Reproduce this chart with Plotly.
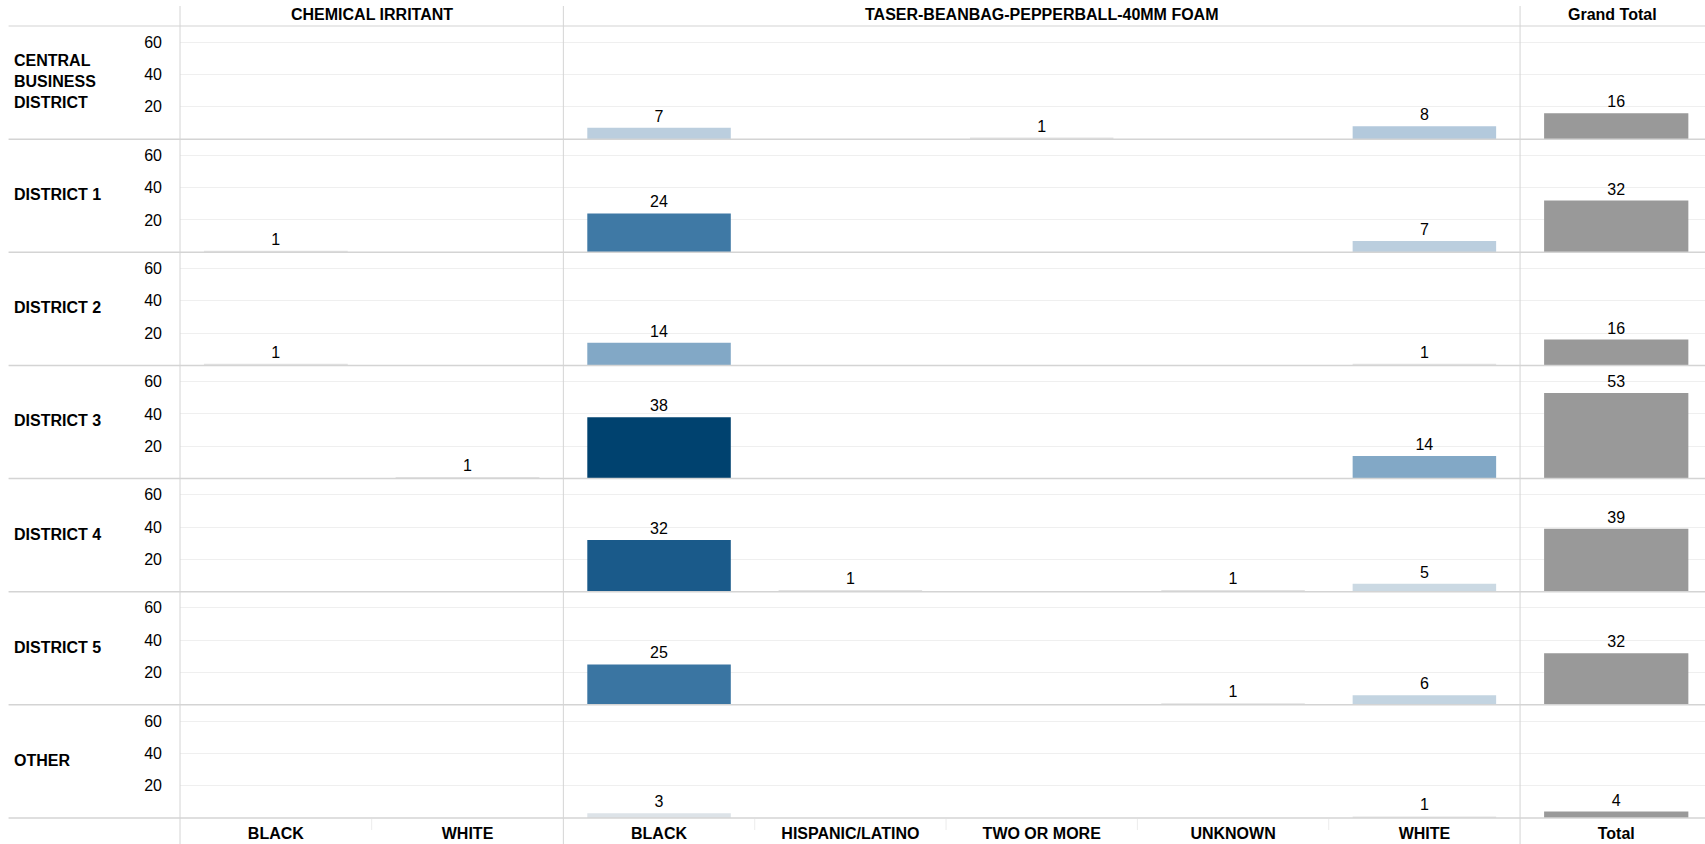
import plotly.graph_objects as go
from plotly.subplots import make_subplots

# Districts (rows) and race categories per force type (columns)
districts = ["CENTRAL<br>BUSINESS<br>DISTRICT", "DISTRICT 1", "DISTRICT 2", "DISTRICT 3",
             "DISTRICT 4", "DISTRICT 5", "OTHER"]

chem_races = ["BLACK", "WHITE"]
chem_counts = [
    [None, None],
    [1, None],
    [1, None],
    [None, 1],
    [None, None],
    [None, None],
    [None, None],
]

taser_races = ["BLACK", "HISPANIC/LATINO", "TWO OR MORE", "UNKNOWN", "WHITE"]
taser_counts = [
    [7, None, 1, None, 8],
    [24, None, None, None, 7],
    [14, None, None, None, 1],
    [38, None, None, None, 14],
    [32, 1, None, 1, 5],
    [25, None, None, 1, 6],
    [3, None, None, None, 1],
]

total_label = ["Total"]
grand_totals = [16, 32, 16, 53, 39, 32, 4]

col_headers = ["CHEMICAL IRRITANT", "TASER-BEANBAG-PEPPERBALL-40MM FOAM", "Grand Total"]
y_ticks = [20, 40, 60]

# ---- styling ----
W, H = 1705, 844
L, T, B = 179.5, 26, 26.3
plot_w = W - L
cmin, cmax = 1, 38
blues = [[0.0, "#e3e3e3"], [0.054, "#dde3e8"], [0.108, "#cbd9e3"], [0.189, "#b3c9dc"],
         [0.351, "#82a8c6"], [0.622, "#3f79a5"], [0.838, "#1a5a8a"], [1.0, "#00426f"]]
head_font = dict(family="Liberation Sans Narrow, Arial Narrow, Liberation Sans, sans-serif",
                 size=16, color="#000000")
num_font = dict(family="Liberation Sans, Arial, sans-serif", size=16, color="#000000")
line_col = "#d4d4d4"
grid_col = "#efefef"

fig = make_subplots(rows=7, cols=3, shared_xaxes=True,
                    horizontal_spacing=0, vertical_spacing=0,
                    column_widths=[383.5, 957, 185])


def bar(cats, vals, colored=True, width=0.75):
    marker = (dict(color=[v if v is not None else 0 for v in vals], colorscale=blues,
                   cmin=cmin, cmax=cmax, line=dict(width=0))
              if colored else dict(color="#999999", line=dict(width=0)))
    return go.Bar(x=cats, y=vals, width=width, marker=marker,
                  text=[str(v) if v is not None else "" for v in vals],
                  textposition="outside", textfont=num_font, cliponaxis=False,
                  hoverinfo="x+y", showlegend=False)


for r in range(7):
    fig.add_trace(bar(chem_races, chem_counts[r]), row=r + 1, col=1)
    fig.add_trace(bar(taser_races, taser_counts[r]), row=r + 1, col=2)
    fig.add_trace(bar(total_label, [grand_totals[r]], colored=False, width=0.78),
                  row=r + 1, col=3)

fig.update_yaxes(range=[0, 70], tickvals=y_ticks, showgrid=True, gridcolor=grid_col,
                 gridwidth=1, zeroline=False, showline=False, ticks="",
                 showticklabels=False, fixedrange=True)
fig.update_yaxes(showticklabels=True, tickfont=num_font, ticklabelstandoff=17, col=1)
fig.update_xaxes(showgrid=False, zeroline=False, showline=False, ticks="",
                 tickfont=dict(head_font, size=16), fixedrange=True)
fig.update_xaxes(range=[-0.52, 0.48], col=3)

fig.update_layout(
    width=W, height=H,
    margin=dict(l=L, r=0, t=T, b=B),
    paper_bgcolor="white", plot_bgcolor="white",
    bargap=0.25,
    font=num_font,
)

# ---- dividers ----
shapes = []
px = lambda x: (x - L) / plot_w
py = lambda y: (H - B - y) / (H - T - B)
# horizontal: header underline + row separators
for k in range(8):
    y = T + k * (H - T - B) / 7
    shapes.append(dict(type="line", xref="paper", yref="paper",
                       x0=px(8), x1=px(W), y0=py(y), y1=py(y),
                       line=dict(color=line_col, width=1.5 if k else 1.2), layer="above"))
# vertical column dividers
for x in [L, L + 383.5, L + 383.5 + 957]:
    shapes.append(dict(type="line", xref="paper", yref="paper",
                       x0=px(x), x1=px(x), y0=py(6), y1=py(H),
                       line=dict(color=line_col, width=1)))
# faint separators between category labels
for x in [L + 191.75] + [L + 383.5 + 191.4 * i for i in range(1, 5)]:
    shapes.append(dict(type="line", xref="paper", yref="paper",
                       x0=px(x), x1=px(x), y0=py(H - B + 1), y1=py(H - B + 12),
                       line=dict(color="#ececec", width=1)))
fig.update_layout(shapes=shapes)

# ---- header and row labels ----
ann = []
centers = [L + 383.5 / 2, L + 383.5 + 957 / 2, L + 383.5 + 957 + 185 / 2]
for c, txt in zip(centers, col_headers):
    ann.append(dict(text="<b>%s</b>" % txt, xref="paper", yref="paper",
                    x=px(c), y=py(15), xanchor="center", yanchor="middle",
                    showarrow=False, font=head_font))
for r, name in enumerate(districts):
    yc = T + (r + 0.5) * (H - T - B) / 7
    ann.append(dict(text="<b>%s</b>" % name, xref="paper", yref="paper",
                    x=px(11), y=py(yc - 1), xanchor="left", yanchor="middle", align="left",
                    showarrow=False, font=head_font))
fig.update_layout(annotations=ann)

fig.update_xaxes(tickprefix="<b>", ticksuffix="</b>", ticklabelstandoff=4, row=7)

fig.write_html("out.html")
